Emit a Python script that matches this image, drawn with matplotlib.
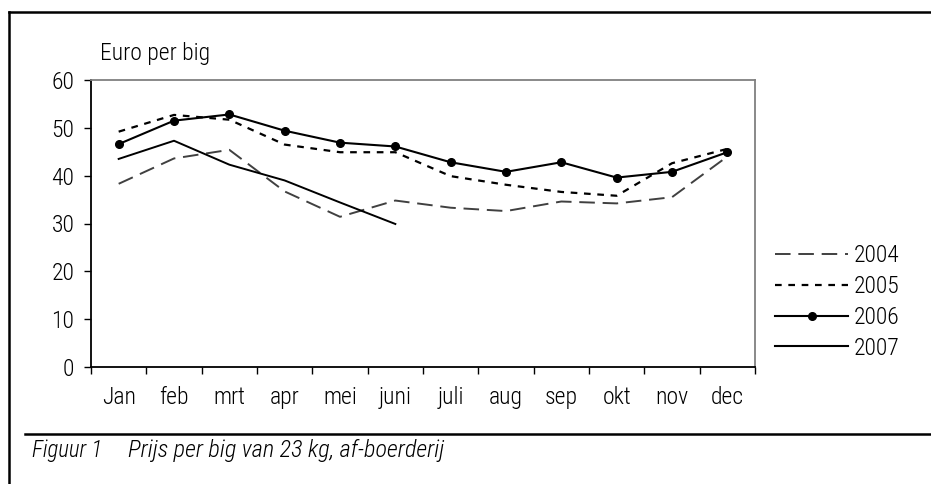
import matplotlib
matplotlib.use("Agg")
import matplotlib.pyplot as plt
from matplotlib.lines import Line2D

months = ["Jan", "feb", "mrt", "apr", "mei", "juni", "juli", "aug", "sep", "okt", "nov", "dec"]
y2004 = [38.3, 43.6, 45.4, 36.7, 31.4, 34.8, 33.3, 32.6, 34.6, 34.2, 35.5, 44.0]
y2005 = [49.2, 52.7, 51.7, 46.5, 44.9, 44.9, 39.9, 38.1, 36.6, 35.8, 42.6, 45.6]
y2006 = [46.6, 51.5, 52.8, 49.4, 46.9, 46.1, 42.8, 40.8, 42.8, 39.6, 40.8, 44.9]
y2007 = [43.5, 47.3, 42.3, 39.0, 34.4, 29.9]
yticks = [0, 10, 20, 30, 40, 50, 60]

plt.rcParams["font.family"] = ["Roboto Condensed", "DejaVu Sans"]
plt.rcParams["font.weight"] = 300
FS = 17

W, H = 931, 484
fig = plt.figure(figsize=(W/100, H/100), dpi=100)
ax = fig.add_axes([91/W, (H-367)/H, (755-91)/W, (367-80)/H])

x = list(range(len(months)))
ax.plot(x, y2004, color="#404040", lw=1.4, dashes=(8, 4), label="2004")
ax.plot(x, y2005, color="black", lw=1.6, dashes=(3, 3), label="2005")
ax.plot(x, y2006, color="black", lw=1.5, marker="o", ms=5.5, label="2006")
ax.plot(x[:len(y2007)], y2007, color="black", lw=1.4, label="2007")

ax.set_xlim(-0.5, 11.5)
ax.set_ylim(0, 60)
ax.set_yticks(yticks)
ax.set_yticklabels([str(v) for v in yticks], fontsize=FS)
ax.set_xticks(x)
ax.set_xticklabels(months, fontsize=FS)
ax.set_xticks([i - 0.5 for i in range(13)], minor=True)
ax.tick_params(axis="x", which="major", length=0, pad=14)
ax.tick_params(axis="x", which="minor", length=5, direction="out", width=1)
ax.tick_params(axis="y", length=5, direction="out", width=1, pad=7)

for s in ["top", "right"]:
    ax.spines[s].set_color("#808080")
    ax.spines[s].set_linewidth(1.3)
for s in ["left", "bottom"]:
    ax.spines[s].set_color("black")
    ax.spines[s].set_linewidth(1.3)

fig.text(100/W, 1 - 60/H, "Euro per big", fontsize=FS, va="baseline", ha="left")

handles = [
    Line2D([], [], color="#404040", lw=1.4, dashes=(8, 4)),
    Line2D([], [], color="black", lw=1.6, dashes=(3, 3)),
    Line2D([], [], color="black", lw=1.5, marker="o", ms=5.5),
    Line2D([], [], color="black", lw=1.5),
]
leg = fig.legend(handles, ["2004", "2005", "2006", "2007"], loc="center left",
                 bbox_to_anchor=(775/W, 1 - 302/H), frameon=False, fontsize=FS,
                 handlelength=3.1, handletextpad=0.25, labelspacing=0.33, borderaxespad=0,
                 borderpad=0)

# figure frame lines
fig.add_artist(Line2D([9/W, 9/W], [0, 1 - 12/H], color="black", lw=1.8, transform=fig.transFigure))
fig.add_artist(Line2D([9/W, 1], [1 - 12/H, 1 - 12/H], color="black", lw=1.8, transform=fig.transFigure))
fig.add_artist(Line2D([25/W, 1], [1 - 434/H, 1 - 434/H], color="black", lw=1.8, transform=fig.transFigure))

fig.text(32/W, 1 - 457/H, "Figuur 1", fontsize=16.5, style="italic", va="baseline", ha="left")
fig.text(128/W, 1 - 457/H, "Prijs per big van 23 kg, af-boerderij",
         fontsize=17.5, style="italic", va="baseline", ha="left")

fig.savefig("out.png", dpi=100)
